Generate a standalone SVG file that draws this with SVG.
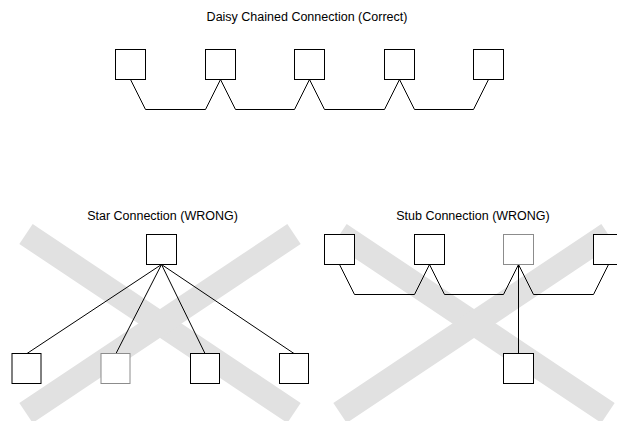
<svg xmlns="http://www.w3.org/2000/svg" width="617" height="421" viewBox="0 0 617 421">
<style>
.t{font-family:"Liberation Sans",Arial,sans-serif;font-size:12.5px;fill:#000;text-anchor:middle}
.band{stroke:#e1e1e1;stroke-width:24;stroke-linecap:butt;fill:none}
.box{fill:#fff;stroke:#000;stroke-width:1}
.gbox{fill:#fff;stroke:#8c8c8c;stroke-width:1}
.wire{fill:none;stroke:#000;stroke-width:1;stroke-linejoin:miter}
</style>
<rect width="617" height="421" fill="#fff"/>
<g id="crosses">
<line class="band" x1="26" y1="234" x2="294" y2="413"/>
<line class="band" x1="294" y1="234" x2="26" y2="413"/>
<line class="band" x1="340" y1="234" x2="608" y2="413"/>
<line class="band" x1="608" y1="234" x2="340" y2="413"/>
</g>
<g id="titles">
<text class="t" x="307" y="20.5">Daisy Chained Connection (Correct)</text>
<text class="t" x="162.5" y="219.5">Star Connection (WRONG)</text>
<text class="t" x="473" y="219.5">Stub Connection (WRONG)</text>
</g>
<g id="connectors">
<polyline class="wire" points="130.5,79.5 145.5,109.5 205.5,109.5 220.5,79.5 235.5,109.5 294.5,109.5 309.5,79.5 324.5,109.5 384.5,109.5 399.5,79.5 414.5,109.5 473.5,109.5 488.5,79.5"/>
<line class="wire" x1="161.5" y1="264.5" x2="27" y2="353.5"/>
<line class="wire" x1="161.5" y1="264.5" x2="116" y2="353.5"/>
<line class="wire" x1="161.5" y1="264.5" x2="205" y2="353.5"/>
<line class="wire" x1="161.5" y1="264.5" x2="294" y2="353.5"/>
<polyline class="wire" points="339.5,264.5 354.5,294.5 414.5,294.5 429.5,264.5 444.5,294.5 503.5,294.5 518.5,264.5 533.5,294.5 593.5,294.5 608.5,264.5"/>
<line class="wire" x1="518.5" y1="264.5" x2="518.5" y2="353.5"/>
</g>
<g id="daisy1"><rect class="box" x="115.5" y="49.5" width="30" height="30"/></g>
<g id="daisy2"><rect class="box" x="205.5" y="49.5" width="30" height="30"/></g>
<g id="daisy3"><rect class="box" x="294.5" y="49.5" width="30" height="30"/></g>
<g id="daisy4"><rect class="box" x="384.5" y="49.5" width="30" height="30"/></g>
<g id="daisy5"><rect class="box" x="473.5" y="49.5" width="30" height="30"/></g>
<g id="star-hub"><rect class="box" x="146.5" y="234.5" width="30" height="30"/></g>
<g id="star1"><rect class="box" x="12" y="353.5" width="29" height="30"/></g>
<g id="star2"><rect class="gbox" x="101" y="353.5" width="29" height="30"/></g>
<g id="star3"><rect class="box" x="190.5" y="353.5" width="29" height="30"/></g>
<g id="star4"><rect class="box" x="279.5" y="353.5" width="29" height="30"/></g>
<g id="stub1"><rect class="box" x="324.5" y="234.5" width="30" height="30"/></g>
<g id="stub2"><rect class="box" x="414.5" y="234.5" width="30" height="30"/></g>
<g id="stub3"><rect class="gbox" x="503.5" y="234.5" width="30" height="30"/></g>
<g id="stub4"><rect class="box" x="593.5" y="234.5" width="30" height="30"/></g>
<g id="stub-drop"><rect class="box" x="503.5" y="353.5" width="30" height="30"/></g>
</svg>
